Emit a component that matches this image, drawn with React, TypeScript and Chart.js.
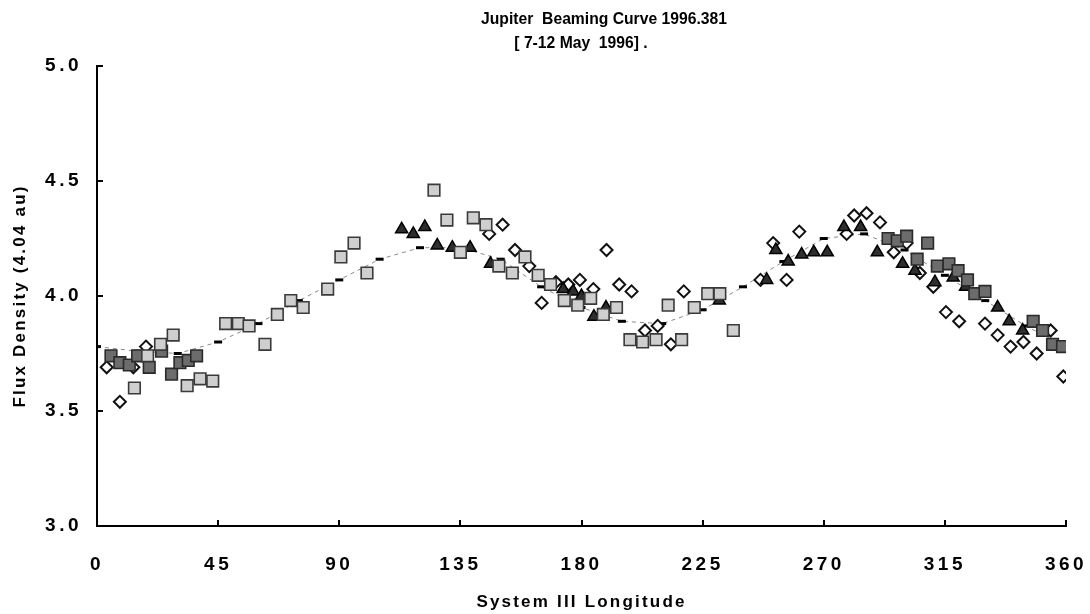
import React, { useEffect, useRef } from 'react';
import { Chart, registerables } from 'chart.js';

Chart.register(...registerables);

const titleLines = ['Jupiter  Beaming Curve 1996.381', '[ 7-12 May  1996] .'];
const xAxisTitle = 'System III Longitude';
const yAxisTitle = 'Flux Density (4.04 au)';
const xTicks = [0, 45, 90, 135, 180, 225, 270, 315, 360];
const yTicks = [3.0, 3.5, 4.0, 4.5, 5.0];

// light grey squares
const lightX = [13.9, 18.8, 23.6, 28.3, 33.5, 38.3, 43.0, 47.8, 52.5, 56.5, 62.4, 67.0, 72.0, 76.6, 85.7, 90.6, 95.5, 100.3, 125.2, 130.0, 135.0, 139.8, 144.5, 149.3, 154.3, 159.0, 163.9, 168.5, 173.6, 178.6, 183.4, 188.1, 193.0, 198.0, 202.7, 207.7, 212.2, 217.2, 221.9, 226.9, 231.4, 236.4];
const lightY = [3.60, 3.74, 3.79, 3.83, 3.61, 3.64, 3.63, 3.88, 3.88, 3.87, 3.79, 3.92, 3.98, 3.95, 4.03, 4.17, 4.23, 4.10, 4.46, 4.33, 4.19, 4.34, 4.31, 4.13, 4.10, 4.17, 4.09, 4.05, 3.98, 3.96, 3.99, 3.92, 3.95, 3.81, 3.80, 3.81, 3.96, 3.81, 3.95, 4.01, 4.01, 3.85];

// dark grey squares
const darkX = [5.2, 8.5, 12.0, 15.1, 19.4, 24.0, 27.7, 30.8, 33.9, 37.0, 293.9, 297.3, 300.8, 304.7, 308.6, 312.2, 316.5, 319.9, 323.4, 326.1, 329.9, 347.8, 351.3, 355.0, 358.7];
const darkY = [3.74, 3.71, 3.70, 3.74, 3.69, 3.76, 3.66, 3.71, 3.72, 3.74, 4.25, 4.24, 4.26, 4.16, 4.23, 4.13, 4.14, 4.11, 4.07, 4.01, 4.02, 3.89, 3.85, 3.79, 3.78];

// black triangles
const triX = [113.2, 117.5, 121.8, 126.4, 132.0, 138.6, 146.2, 173.2, 176.9, 180.0, 184.6, 189.1, 231.2, 248.8, 252.2, 256.8, 261.8, 266.3, 271.3, 277.5, 283.7, 289.9, 299.3, 303.9, 311.3, 318.1, 322.7, 334.6, 338.9, 343.9];
const triY = [4.29, 4.27, 4.30, 4.22, 4.21, 4.21, 4.14, 4.03, 4.02, 4.00, 3.91, 3.95, 3.98, 4.07, 4.20, 4.15, 4.18, 4.19, 4.19, 4.30, 4.30, 4.19, 4.14, 4.11, 4.06, 4.08, 4.04, 3.95, 3.89, 3.85];

// open diamonds
const diaX = [3.6, 8.5, 13.5, 18.2, 145.7, 150.7, 155.3, 160.6, 165.2, 170.5, 175.1, 179.4, 184.4, 189.3, 194.0, 198.6, 203.6, 208.3, 213.2, 218.0, 246.5, 251.2, 256.2, 260.9, 278.5, 281.3, 285.9, 290.9, 296.0, 300.8, 305.7, 310.7, 315.4, 320.3, 329.9, 334.6, 339.4, 344.2, 349.1, 354.3, 359.0];
const diaY = [3.69, 3.54, 3.69, 3.78, 4.27, 4.31, 4.20, 4.13, 3.97, 4.06, 4.05, 4.07, 4.03, 4.20, 4.05, 4.02, 3.85, 3.87, 3.79, 4.02, 4.07, 4.23, 4.07, 4.28, 4.27, 4.35, 4.36, 4.32, 4.19, 4.23, 4.10, 4.04, 3.93, 3.89, 3.88, 3.83, 3.78, 3.80, 3.75, 3.85, 3.65];

// model curve
const modelX = [0, 15, 30, 45, 60, 75, 90, 105, 120, 135, 150, 165, 180, 195, 210, 225, 240, 255, 270, 285, 300, 315, 330, 345, 360];
const modelY = [3.78, 3.76, 3.75, 3.80, 3.88, 3.98, 4.07, 4.16, 4.21, 4.21, 4.16, 4.04, 3.95, 3.89, 3.88, 3.94, 4.04, 4.15, 4.25, 4.27, 4.20, 4.09, 3.98, 3.87, 3.78];

const pts = (xs: number[], ys: number[]) => xs.map((x, i) => ({ x, y: ys[i] }));

const FONT = '"Liberation Sans", Arial, Helvetica, sans-serif';
const NARROW = '"Liberation Sans Narrow", "Arial Narrow"';

export default function App() {
  const ref = useRef<HTMLCanvasElement>(null);

  useEffect(() => {
    if (!ref.current) return;
    const c2d = ref.current.getContext('2d') as any;
    if (c2d) c2d.letterSpacing = '0px';

    // choose title font: narrow bold if installed, sized to the reference width
    let titleFamily = FONT;
    let titleSize = 15.7;
    if (c2d) {
      c2d.font = `bold 20px ${NARROW}, serif`;
      const wn = c2d.measureText(titleLines[0]).width;
      c2d.font = 'bold 20px serif';
      const ws = c2d.measureText(titleLines[0]).width;
      if (Math.abs(wn - ws) > 0.5) {
        titleFamily = `${NARROW}, ${FONT}`;
        titleSize = Math.min(19, (20 * 245) / wn);
      }
    }

    const spacingPlugin = {
      id: 'spacingAndTitle',
      beforeDraw(chart: any) {
        chart.ctx.letterSpacing = '2.2px';
      },
      beforeDatasetsDraw(chart: any) {
        chart.ctx.letterSpacing = '0px';
      },
      afterDatasetsDraw(chart: any) {
        chart.ctx.letterSpacing = '3.5px';
      },
      afterDraw(chart: any) {
        const ctx = chart.ctx;
        ctx.letterSpacing = '0px';
        ctx.save();
        ctx.fillStyle = '#000';
        ctx.font = `bold ${titleSize}px ${titleFamily}`;
        ctx.textAlign = 'center';
        ctx.textBaseline = 'middle';
        ctx.fillText(titleLines[0], 604, 20);
        ctx.fillText(titleLines[1], 581, 44);
        ctx.restore();
      },
    };

    const chart = new Chart(ref.current, {
      type: 'scatter',
      data: {
        datasets: [
          {
            label: 'light',
            data: pts(lightX, lightY),
            pointStyle: 'rect',
            pointRadius: 8.2,
            pointBackgroundColor: '#cfcfcf',
            pointBorderColor: '#3a3a3a',
            pointBorderWidth: 1.6,
          },
          {
            label: 'dark',
            data: pts(darkX, darkY),
            pointStyle: 'rect',
            pointRadius: 8.2,
            pointBackgroundColor: '#6c6c6c',
            pointBorderColor: '#2a2a2a',
            pointBorderWidth: 1.6,
          },
          {
            label: 'tri',
            data: pts(triX, triY),
            pointStyle: 'triangle',
            pointRadius: 7,
            pointBackgroundColor: '#2e2e2e',
            pointBorderColor: '#000',
            pointBorderWidth: 1.5,
          },
          {
            label: 'diamond',
            data: pts(diaX, diaY),
            pointStyle: 'rectRot',
            pointRadius: 6,
            pointBackgroundColor: '#ffffff',
            pointBorderColor: '#111',
            pointBorderWidth: 2,
          },
          {
            label: 'model',
            data: pts(modelX, modelY),
            showLine: true,
            borderColor: '#888',
            borderWidth: 1,
            borderDash: [4, 4],
            pointStyle: 'line',
            pointRadius: 4,
            pointBorderColor: '#000',
            pointBorderWidth: 3,
            pointBackgroundColor: '#000',
          },
        ],
      },
      options: {
        responsive: false,
        animation: false,
        devicePixelRatio: 1,
        layout: { autoPadding: false, padding: { top: 66, right: 24, left: 0, bottom: 0 } },
        plugins: {
          legend: { display: false },
          tooltip: { enabled: false },
          title: { display: false },
        },
        scales: {
          x: {
            type: 'linear',
            min: 0,
            max: 360,
            afterFit: (s: any) => { s.height = 88; s.paddingLeft = 0; s.paddingRight = 0; },
            afterBuildTicks: (s: any) => { s.ticks = xTicks.map((v) => ({ value: v })); },
            ticks: {
              z: 1,
              color: '#000',
              font: { family: FONT, size: 19, weight: 'bold' },
              padding: 33,
              maxRotation: 0,
              autoSkip: false,
            },
            grid: {
              drawOnChartArea: false,
              drawTicks: true,
              tickLength: -6,
              color: '#000',
              lineWidth: 2,
            },
            border: { display: true, color: '#000', width: 2 },
            title: {
              display: true,
              text: xAxisTitle,
              color: '#000',
              font: { family: FONT, size: 17, weight: 'bold' },
              padding: { top: 0, bottom: 1 },
            },
          },
          y: {
            type: 'linear',
            min: 3,
            max: 5,
            afterFit: (s: any) => { s.width = 97; s.paddingTop = 0; s.paddingBottom = 0; },
            afterBuildTicks: (s: any) => { s.ticks = yTicks.map((v) => ({ value: v })); },
            ticks: {
              z: 1,
              color: '#000',
              font: { family: FONT, size: 19, weight: 'bold' },
              padding: 21,
              callback: (v: any) => Number(v).toFixed(1),
            },
            grid: {
              drawOnChartArea: false,
              drawTicks: true,
              tickLength: -6,
              color: '#000',
              lineWidth: 2,
            },
            border: { display: true, color: '#000', width: 2 },
            title: {
              display: true,
              text: yAxisTitle,
              color: '#000',
              font: { family: FONT, size: 17, weight: 'bold' },
              padding: { top: 10, bottom: 0 },
            },
          },
        },
      },
      plugins: [spacingPlugin],
    } as any);

    return () => {
      chart.destroy();
      const ctx2 = ref.current?.getContext('2d') as any;
      if (ctx2) ctx2.letterSpacing = '0px';
    };
  }, []);

  return (
    <div style={{ position: 'fixed', left: 0, top: 0, width: 1090, height: 614, background: '#fff' }}>
      <canvas ref={ref} width={1090} height={614} style={{ display: 'block' }} />
    </div>
  );
}
